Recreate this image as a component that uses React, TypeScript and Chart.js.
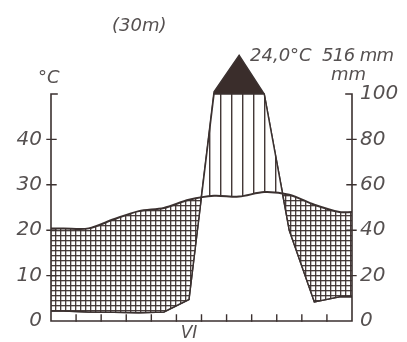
import React, { useEffect, useRef } from 'react';
import { Chart, registerables } from 'chart.js';

Chart.register(...registerables);

// ---- data ----
const months = ['I', 'II', 'III', 'IV', 'V', 'VI', 'VII', 'VIII', 'IX', 'X', 'XI', 'XII'];
const monthLabels = ['', '', '', '', '', 'VI', '', '', '', '', '', ''];
const temperature = [20.4, 20.4, 22.4, 24.2, 24.9, 26.7, 27.6, 27.4, 28.4, 27.8, 25.6, 24.0];
const precipitation = [4.4, 4.0, 3.8, 3.6, 4.0, 9.5, 110, 270, 100, 40, 8.4, 10.7];
const tempTicks = [0, 10, 20, 30, 40];
const precTicks = [0, 20, 40, 60, 80, 100];
const stationLabel = '(30m)';
const annualTemp = '24,0°C';
const annualPrec = '516 mm';
const tempUnit = '°C';
const precUnit = 'mm';

const INK = '#3b3130';
const DARK = '#3a2d2b';
const TEXT = '#555050';
const FONT = '"DejaVu Sans", "Liberation Sans", sans-serif';

// precipitation (mm) -> temperature-axis units (10 °C = 20 mm, above 100 mm scaled 1:10)
const toDisplay = (p: number) => (p <= 100 ? p / 2 : 50 + (p - 100) / 20);

const withEdges = (vals: number[]) => [
  { x: 0, y: vals[0] },
  ...vals.map((v, i) => ({ x: i + 0.5, y: v })),
  { x: months.length, y: vals[vals.length - 1] },
];

function makeCross(): CanvasPattern | string {
  const c = document.createElement('canvas');
  c.width = 5;
  c.height = 5;
  const g = c.getContext('2d')!;
  g.fillStyle = '#ffffff';
  g.fillRect(0, 0, 5, 5);
  g.fillStyle = 'rgba(58,46,44,0.92)';
  g.fillRect(0, 0, 5, 1);
  g.fillRect(0, 0, 1, 5);
  g.fillStyle = 'rgba(58,46,44,0.3)';
  g.fillRect(1, 1, 4, 1);
  g.fillRect(1, 1, 1, 4);
  return g.createPattern(c, 'repeat') || '#999';
}

function makeVert(): CanvasPattern | string {
  const c = document.createElement('canvas');
  c.width = 11;
  c.height = 2;
  const g = c.getContext('2d')!;
  g.fillStyle = '#ffffff';
  g.fillRect(0, 0, 11, 2);
  g.fillStyle = 'rgba(58,46,44,0.95)';
  g.fillRect(0, 0, 1, 2);
  g.fillStyle = 'rgba(58,46,44,0.4)';
  g.fillRect(1, 0, 1, 2);
  return g.createPattern(c, 'repeat') || '#999';
}

const decorPlugin = {
  id: 'decor',
  afterDraw(chart: any) {
    const { ctx, chartArea, scales } = chart;
    const y = scales.y;
    const y2 = scales.y2;
    const x = scales.x;
    const L = chartArea.left;
    const R = chartArea.right;
    const y0 = y.getPixelForValue(0);
    const yTop = y.getPixelForValue(50);
    ctx.save();
    ctx.strokeStyle = INK;
    ctx.lineWidth = 1.6;
    ctx.lineCap = 'square';
    ctx.beginPath();
    // left axis with bracket
    ctx.moveTo(L + 6, yTop);
    ctx.lineTo(L, yTop);
    ctx.lineTo(L, y0);
    // bottom axis
    ctx.lineTo(R, y0);
    // right axis with bracket
    ctx.lineTo(R, yTop);
    ctx.lineTo(R - 6, yTop);
    ctx.stroke();
    ctx.lineWidth = 1.4;
    ctx.beginPath();
    tempTicks.forEach((v) => {
      if (v === 0) return;
      const py = y.getPixelForValue(v);
      ctx.moveTo(L - 4, py);
      ctx.lineTo(L + 5, py);
    });
    precTicks.forEach((v) => {
      if (v === 0 || v === 100) return;
      const py = y2.getPixelForValue(v);
      ctx.moveTo(R - 5, py);
      ctx.lineTo(R + 4, py);
    });
    for (let m = 1; m < months.length; m++) {
      const px = x.getPixelForValue(m);
      ctx.moveTo(px, y0);
      ctx.lineTo(px, y0 - 6);
    }
    ctx.stroke();

    ctx.fillStyle = TEXT;
    ctx.textBaseline = 'middle';
    ctx.font = `italic 18px ${FONT}`;
    ctx.textAlign = 'left';
    ctx.fillText(stationLabel, 112, 26);
    ctx.fillText(annualTemp, 250, 56);
    ctx.fillText(tempUnit, 38, 78);
    ctx.fillText(precUnit, 331, 75);
    (ctx as any).letterSpacing = '-0.6px';
    ctx.fillText(annualPrec, 322, 56);
    (ctx as any).letterSpacing = '0px';
    ctx.restore();
  },
};

export default function App() {
  const ref = useRef<HTMLCanvasElement>(null);
  useEffect(() => {
    const canvas = ref.current!;
    const cross = makeCross();
    const vert = makeVert();
    const precDisp = precipitation.map(toDisplay);
    const precClipped = precDisp.map((v) => Math.min(v, 50));
    const tickFont = { family: FONT, size: 20, style: 'italic' as const };
    const chart = new Chart(canvas, {
      type: 'line',
      data: {
        datasets: [
          {
            label: 'Temperatur',
            data: withEdges(temperature),
            borderColor: INK,
            borderWidth: 2,
            fill: false,
            tension: 0.3,
            yAxisID: 'y',
          },
          {
            label: 'Niederschlag',
            data: withEdges(precClipped),
            borderColor: INK,
            borderWidth: 1.5,
            fill: { target: 0, above: vert, below: cross } as any,
            tension: 0,
            yAxisID: 'y',
          },
          {
            label: 'Niederschlag > 100 mm',
            data: withEdges(precDisp),
            borderColor: INK,
            borderWidth: 1.5,
            fill: { target: { value: 50 }, above: DARK, below: 'rgba(0,0,0,0)' } as any,
            tension: 0,
            yAxisID: 'y',
            clip: false as any,
          },
        ],
      },
      options: {
        animation: false,
        responsive: false,
        layout: { padding: { top: 39.5, left: 0, right: 0, bottom: 0 } },
        elements: { point: { radius: 0 } },
        plugins: {
          legend: { display: false },
          tooltip: { enabled: false },
          filler: { propagate: false },
        },
        scales: {
          x: {
            type: 'linear',
            min: 0,
            max: months.length,
            grid: { display: false, drawTicks: false },
            border: { display: false },
            afterBuildTicks: (s: any) => {
              s.ticks = months.map((_, i) => ({ value: i + 0.5 }));
            },
            afterFit: (s: any) => {
              s.height = 21;
            },
            ticks: {
              autoSkip: false,
              maxRotation: 0,
              padding: 2,
              color: TEXT,
              font: { family: FONT, size: 17, style: 'italic' },
              callback: (_v: any, i: number) => monthLabels[i],
            },
          },
          y: {
            position: 'left',
            min: 0,
            max: 62,
            grid: { display: false, drawTicks: false },
            border: { display: false },
            afterBuildTicks: (s: any) => {
              s.ticks = tempTicks.map((v) => ({ value: v }));
            },
            afterFit: (s: any) => {
              s.width = 51;
            },
            ticks: { padding: 9, color: TEXT, font: tickFont },
          },
          y2: {
            position: 'right',
            min: 0,
            max: 124,
            grid: { display: false, drawTicks: false },
            border: { display: false },
            afterBuildTicks: (s: any) => {
              s.ticks = precTicks.map((v) => ({ value: v }));
            },
            afterFit: (s: any) => {
              s.width = 55;
            },
            ticks: { padding: 8, color: TEXT, font: tickFont },
          },
        },
      },
      plugins: [decorPlugin],
    });
    return () => chart.destroy();
  }, []);
  return (
    <div style={{ position: 'absolute', left: 0, top: 0, width: 407, height: 342, background: '#fff' }}>
      <canvas ref={ref} width={407} height={342} style={{ display: 'block' }} />
    </div>
  );
}
